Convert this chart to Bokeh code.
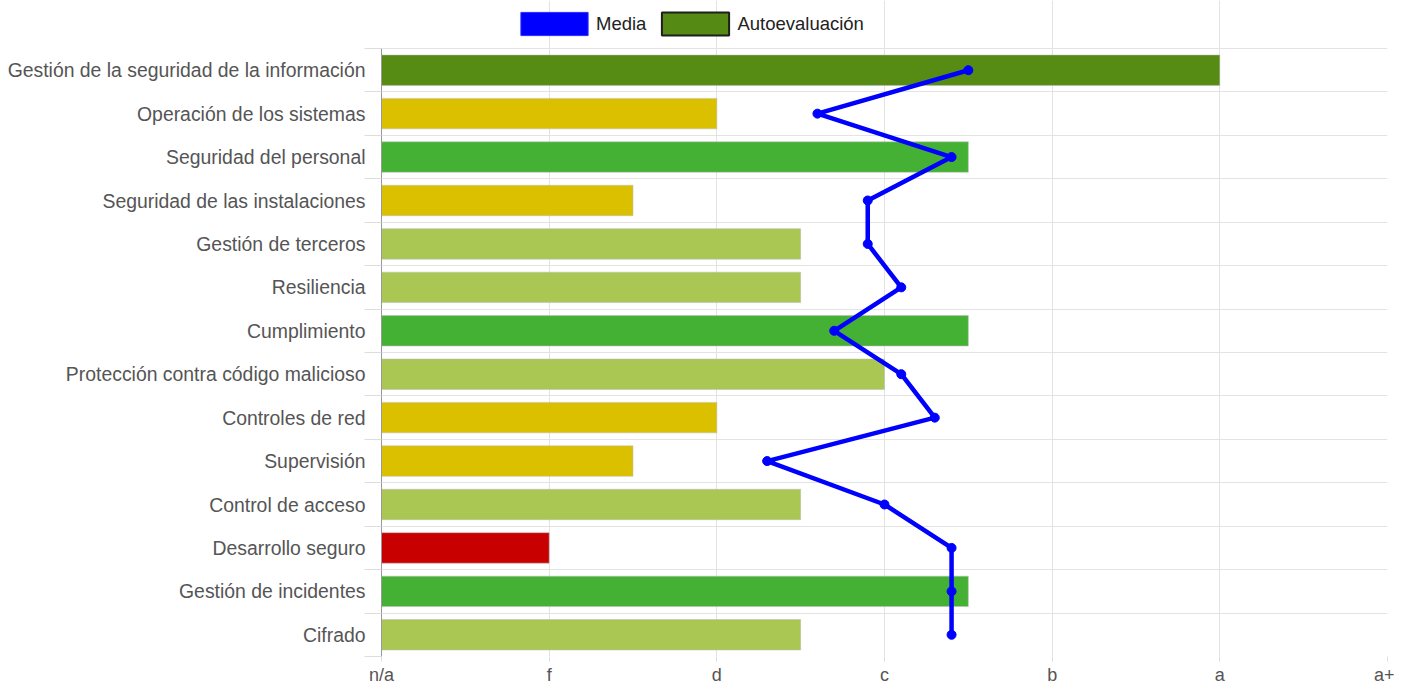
import numpy as np
from bokeh.plotting import figure
from bokeh.models import (Range1d, FixedTicker, Legend, LegendItem, ColumnDataSource)
from bokeh.embed import file_html
from bokeh.resources import INLINE

categories = ["Gestión de la seguridad de la información", "Operación de los sistemas",
              "Seguridad del personal", "Seguridad de las instalaciones", "Gestión de terceros",
              "Resiliencia", "Cumplimiento", "Protección contra código malicioso",
              "Controles de red", "Supervisión", "Control de acceso", "Desarrollo seguro",
              "Gestión de incidentes", "Cifrado"]
autoevaluacion = [5.0, 2.0, 3.5, 1.5, 2.5, 2.5, 3.5, 3.0, 2.0, 1.5, 2.5, 1.0, 3.5, 2.5]
media = [3.5, 2.6, 3.4, 2.9, 2.9, 3.1, 2.7, 3.1, 3.3, 2.3, 3.0, 3.4, 3.4, 3.4]
x_tick_labels = ["n/a", "f", "d", "c", "b", "a", "a+"]

def bar_color(v):
    if v >= 4.5:
        return "#568C14"
    if v >= 3.5:
        return "#44B135"
    if v >= 2.5:
        return "#A9C752"
    if v >= 1.5:
        return "#DBC000"
    return "#C80000"

n = len(categories)
ys = [n - 1 - i + 0.5 for i in range(n)]
src = ColumnDataSource(dict(y=ys, val=autoevaluacion, med=media,
                            color=[bar_color(v) for v in autoevaluacion]))

FONT = "Liberation Sans"
FRAME_H = 656
ROW_TOP = 48
unit = (FRAME_H - ROW_TOP) / n
y_top = n + ROW_TOP / unit

p = figure(width=1394, height=685, output_backend="svg", toolbar_location=None,
           x_range=Range1d(0, 6), y_range=Range1d(0, y_top),
           frame_width=1006, frame_height=FRAME_H,
           min_border_left=381, min_border_right=7, min_border_top=0, min_border_bottom=0)
p.outline_line_color = None
p.background_fill_color = "white"

p.hbar(y="y", left=0, right="val", height=0.7, fill_color="color",
       line_color="#bbbbbb", line_alpha=0.5, line_width=1, source=src)
p.line(x="med", y="y", line_color="#0000FF", line_width=4.5, source=src)
p.scatter(x="med", y="y", size=9, fill_color="#0000FF", line_color="#0000FF", source=src)

# legend swatches (not drawn in the plot area: NaN coordinates)
nan_src = dict(left=[np.nan], right=[np.nan], top=[np.nan], bottom=[np.nan])
r_media = p.quad(source=ColumnDataSource(nan_src), left="left", right="right", top="top",
                 bottom="bottom", fill_color="#0000FF", line_color="#2a2aff", line_width=1)
r_auto = p.quad(source=ColumnDataSource(dict(nan_src)), left="left", right="right", top="top",
                bottom="bottom", fill_color="#558B14", line_color="#1e1e1e", line_width=2)
legend = Legend(items=[LegendItem(label="Media", renderers=[r_media]),
                       LegendItem(label="Autoevaluación", renderers=[r_auto])],
                orientation="horizontal", location=(131, FRAME_H - 5 - 33),
                glyph_width=84, glyph_height=29,
                label_text_font=FONT, label_text_font_size="18.5px", label_text_color="#222222",
                label_standoff=0, spacing=7, padding=2, margin=0, border_line_color=None,
                background_fill_alpha=0)
p.add_layout(legend, "center")

# x axis
p.xaxis.ticker = FixedTicker(ticks=list(range(len(x_tick_labels))))
p.xaxis.major_label_overrides = {i: t for i, t in enumerate(x_tick_labels)}
p.xaxis.axis_line_color = None
p.xaxis.major_tick_line_color = "#dddddd"
p.xaxis.major_tick_in = 0
p.xaxis.major_tick_out = 5
p.xaxis.minor_tick_line_color = None
p.xaxis.major_label_standoff = 3
p.xaxis.major_label_text_font = FONT
p.xaxis.major_label_text_font_size = "18px"
p.xaxis.major_label_text_color = "#555555"

# y axis
p.yaxis.ticker = FixedTicker(ticks=ys, minor_ticks=list(range(n + 1)))
p.yaxis.bounds = (0, n)
p.yaxis.major_label_overrides = {y: c for y, c in zip(ys, categories)}
p.yaxis.axis_line_color = "#999999"
p.yaxis.major_tick_line_color = None
p.yaxis.major_tick_in = 0
p.yaxis.major_tick_out = 0
p.yaxis.minor_tick_line_color = "#dddddd"
p.yaxis.minor_tick_in = 0
p.yaxis.minor_tick_out = 17
p.yaxis.major_label_standoff = -1
p.yaxis.major_label_text_font = FONT
p.yaxis.major_label_text_font_size = "19.4px"
p.yaxis.major_label_text_color = "#555555"

p.xgrid.ticker = FixedTicker(ticks=list(range(7)))
p.xgrid.bounds = (0, n)
p.xgrid.grid_line_color = "#e3e3e3"
p.ygrid.ticker = FixedTicker(ticks=list(range(n + 1)))
p.ygrid.grid_line_color = "#e3e3e3"

open("out.html", "w").write(file_html(p, INLINE))
